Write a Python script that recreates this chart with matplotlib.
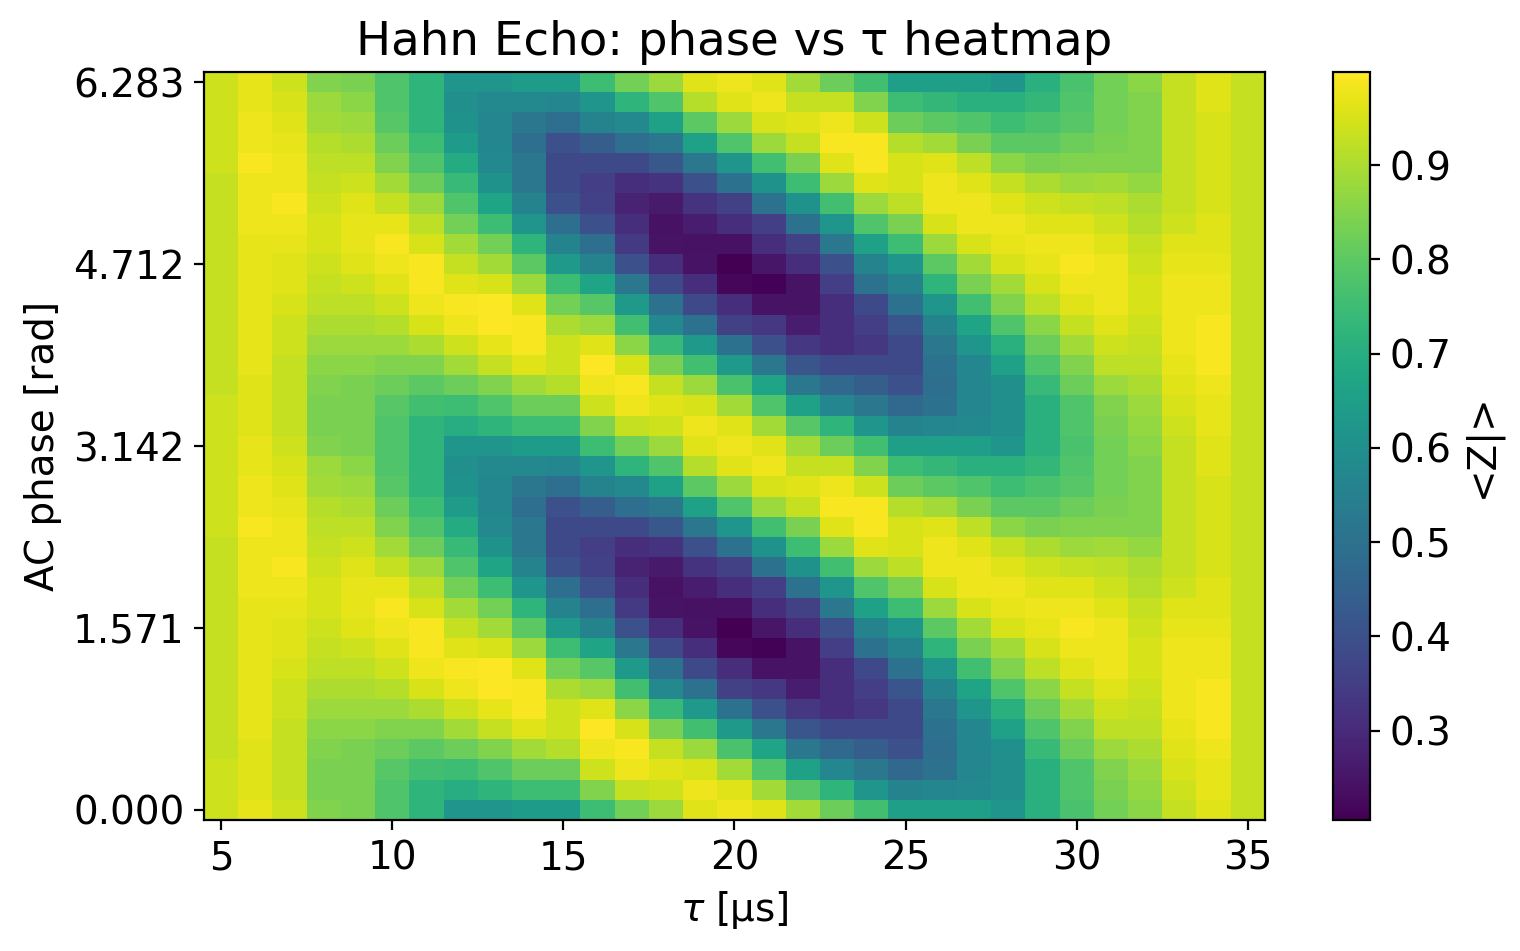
import numpy as np
import matplotlib
matplotlib.use("Agg")
import matplotlib.pyplot as plt

# tau axis (us) and AC phase axis (deg -> rad)
tau = list(range(5, 36))
phase_deg = list(range(0, 361, 10))

# <Z>, one row per phase value (0 .. 360 deg)
z_rows = [
    [0.94, 0.97, 0.94, 0.85, 0.84, 0.78, 0.72, 0.62, 0.62, 0.64, 0.64, 0.75, 0.83, 0.88, 0.96, 0.98, 0.96, 0.89, 0.82, 0.76, 0.65, 0.65, 0.65, 0.62, 0.71, 0.77, 0.83, 0.86, 0.93, 0.96, 0.93],
    [0.94, 0.96, 0.93, 0.84, 0.84, 0.78, 0.72, 0.70, 0.72, 0.75, 0.75, 0.85, 0.93, 0.94, 0.98, 0.96, 0.89, 0.79, 0.72, 0.62, 0.56, 0.57, 0.58, 0.60, 0.71, 0.78, 0.84, 0.87, 0.94, 0.97, 0.93],
    [0.94, 0.96, 0.93, 0.84, 0.84, 0.79, 0.76, 0.75, 0.78, 0.82, 0.82, 0.94, 0.98, 0.96, 0.95, 0.89, 0.78, 0.66, 0.57, 0.52, 0.47, 0.50, 0.57, 0.60, 0.71, 0.78, 0.85, 0.88, 0.95, 0.97, 0.93],
    [0.93, 0.96, 0.93, 0.85, 0.84, 0.82, 0.80, 0.82, 0.85, 0.89, 0.91, 0.98, 0.99, 0.93, 0.88, 0.77, 0.67, 0.52, 0.47, 0.44, 0.40, 0.49, 0.57, 0.60, 0.74, 0.82, 0.88, 0.90, 0.96, 0.98, 0.93],
    [0.93, 0.97, 0.93, 0.86, 0.86, 0.85, 0.85, 0.89, 0.93, 0.96, 0.94, 0.999, 0.95, 0.84, 0.76, 0.63, 0.52, 0.41, 0.38, 0.38, 0.38, 0.50, 0.57, 0.66, 0.78, 0.85, 0.92, 0.92, 0.97, 0.99, 0.93],
    [0.93, 0.97, 0.94, 0.88, 0.88, 0.88, 0.90, 0.94, 0.97, 0.99, 0.94, 0.96, 0.86, 0.74, 0.63, 0.50, 0.40, 0.33, 0.31, 0.33, 0.38, 0.52, 0.62, 0.71, 0.82, 0.89, 0.94, 0.93, 0.98, 0.99, 0.93],
    [0.93, 0.97, 0.94, 0.90, 0.90, 0.91, 0.95, 0.98, 0.999, 0.99, 0.90, 0.88, 0.76, 0.58, 0.50, 0.36, 0.33, 0.27, 0.31, 0.35, 0.41, 0.56, 0.67, 0.78, 0.86, 0.93, 0.96, 0.94, 0.98, 0.99, 0.93],
    [0.93, 0.97, 0.95, 0.92, 0.92, 0.94, 0.98, 0.99, 0.995, 0.96, 0.83, 0.79, 0.63, 0.50, 0.38, 0.31, 0.245, 0.245, 0.31, 0.38, 0.50, 0.62, 0.76, 0.85, 0.92, 0.96, 0.98, 0.95, 0.98, 0.98, 0.93],
    [0.93, 0.97, 0.96, 0.93, 0.94, 0.96, 0.99, 0.96, 0.95, 0.88, 0.75, 0.67, 0.52, 0.38, 0.31, 0.22, 0.21, 0.245, 0.35, 0.50, 0.56, 0.72, 0.84, 0.89, 0.95, 0.98, 0.98, 0.95, 0.98, 0.98, 0.93],
    [0.93, 0.97, 0.96, 0.94, 0.96, 0.98, 0.99, 0.93, 0.89, 0.80, 0.63, 0.56, 0.40, 0.31, 0.245, 0.205, 0.25, 0.31, 0.40, 0.56, 0.62, 0.80, 0.89, 0.95, 0.97, 0.99, 0.98, 0.94, 0.97, 0.97, 0.93],
    [0.93, 0.97, 0.97, 0.95, 0.97, 0.99, 0.95, 0.89, 0.83, 0.72, 0.56, 0.49, 0.34, 0.245, 0.24, 0.24, 0.31, 0.36, 0.52, 0.66, 0.75, 0.88, 0.95, 0.97, 0.98, 0.98, 0.96, 0.93, 0.96, 0.96, 0.93],
    [0.93, 0.98, 0.98, 0.95, 0.97, 0.97, 0.92, 0.83, 0.75, 0.62, 0.49, 0.40, 0.31, 0.24, 0.27, 0.31, 0.35, 0.50, 0.62, 0.78, 0.84, 0.95, 0.98, 0.98, 0.96, 0.96, 0.94, 0.91, 0.94, 0.96, 0.93],
    [0.93, 0.98, 0.99, 0.94, 0.96, 0.93, 0.88, 0.78, 0.67, 0.56, 0.40, 0.355, 0.28, 0.26, 0.32, 0.36, 0.50, 0.61, 0.76, 0.88, 0.92, 0.98, 0.98, 0.96, 0.94, 0.93, 0.92, 0.90, 0.93, 0.95, 0.93],
    [0.93, 0.98, 0.98, 0.93, 0.94, 0.89, 0.82, 0.74, 0.61, 0.52, 0.38, 0.35, 0.31, 0.32, 0.40, 0.50, 0.61, 0.75, 0.88, 0.96, 0.95, 0.98, 0.96, 0.93, 0.90, 0.88, 0.89, 0.87, 0.93, 0.95, 0.93],
    [0.94, 0.99, 0.98, 0.92, 0.92, 0.85, 0.78, 0.69, 0.58, 0.52, 0.38, 0.38, 0.38, 0.42, 0.52, 0.62, 0.76, 0.84, 0.96, 0.99, 0.95, 0.96, 0.92, 0.86, 0.84, 0.85, 0.85, 0.85, 0.93, 0.95, 0.93],
    [0.94, 0.98, 0.97, 0.91, 0.90, 0.82, 0.75, 0.64, 0.57, 0.49, 0.40, 0.44, 0.49, 0.52, 0.66, 0.78, 0.88, 0.93, 0.99, 0.99, 0.91, 0.89, 0.84, 0.80, 0.80, 0.82, 0.84, 0.85, 0.93, 0.95, 0.93],
    [0.94, 0.98, 0.96, 0.89, 0.88, 0.79, 0.72, 0.61, 0.57, 0.52, 0.49, 0.56, 0.58, 0.66, 0.80, 0.88, 0.95, 0.96, 0.98, 0.94, 0.82, 0.80, 0.78, 0.75, 0.77, 0.79, 0.83, 0.85, 0.93, 0.95, 0.93],
    [0.94, 0.97, 0.95, 0.88, 0.86, 0.78, 0.72, 0.60, 0.58, 0.58, 0.57, 0.62, 0.72, 0.78, 0.91, 0.96, 0.98, 0.93, 0.93, 0.85, 0.75, 0.73, 0.71, 0.71, 0.73, 0.78, 0.83, 0.85, 0.93, 0.96, 0.93],
    [0.94, 0.97, 0.94, 0.85, 0.84, 0.78, 0.72, 0.62, 0.62, 0.64, 0.64, 0.75, 0.83, 0.88, 0.96, 0.98, 0.96, 0.89, 0.82, 0.76, 0.65, 0.65, 0.65, 0.62, 0.71, 0.77, 0.83, 0.86, 0.93, 0.96, 0.93],
    [0.94, 0.96, 0.93, 0.84, 0.84, 0.78, 0.72, 0.70, 0.72, 0.75, 0.75, 0.85, 0.93, 0.94, 0.98, 0.96, 0.89, 0.79, 0.72, 0.62, 0.56, 0.57, 0.58, 0.60, 0.71, 0.78, 0.84, 0.87, 0.94, 0.97, 0.93],
    [0.94, 0.96, 0.93, 0.84, 0.84, 0.79, 0.76, 0.75, 0.78, 0.82, 0.82, 0.94, 0.98, 0.96, 0.95, 0.89, 0.78, 0.66, 0.57, 0.52, 0.47, 0.50, 0.57, 0.60, 0.71, 0.78, 0.85, 0.88, 0.95, 0.97, 0.93],
    [0.93, 0.96, 0.93, 0.85, 0.84, 0.82, 0.80, 0.82, 0.85, 0.89, 0.91, 0.98, 0.99, 0.93, 0.88, 0.77, 0.67, 0.52, 0.47, 0.44, 0.40, 0.49, 0.57, 0.60, 0.74, 0.82, 0.88, 0.90, 0.96, 0.98, 0.93],
    [0.93, 0.97, 0.93, 0.86, 0.86, 0.85, 0.85, 0.89, 0.93, 0.96, 0.94, 0.999, 0.95, 0.84, 0.76, 0.63, 0.52, 0.41, 0.38, 0.38, 0.38, 0.50, 0.57, 0.66, 0.78, 0.85, 0.92, 0.92, 0.97, 0.99, 0.93],
    [0.93, 0.97, 0.94, 0.88, 0.88, 0.88, 0.90, 0.94, 0.97, 0.99, 0.94, 0.96, 0.86, 0.74, 0.63, 0.50, 0.40, 0.33, 0.31, 0.33, 0.38, 0.52, 0.62, 0.71, 0.82, 0.89, 0.94, 0.93, 0.98, 0.99, 0.93],
    [0.93, 0.97, 0.94, 0.90, 0.90, 0.91, 0.95, 0.98, 0.999, 0.99, 0.90, 0.88, 0.76, 0.58, 0.50, 0.36, 0.33, 0.27, 0.31, 0.35, 0.41, 0.56, 0.67, 0.78, 0.86, 0.93, 0.96, 0.94, 0.98, 0.99, 0.93],
    [0.93, 0.97, 0.95, 0.92, 0.92, 0.94, 0.98, 0.99, 0.995, 0.96, 0.83, 0.79, 0.63, 0.50, 0.38, 0.31, 0.245, 0.245, 0.31, 0.38, 0.50, 0.62, 0.76, 0.85, 0.92, 0.96, 0.98, 0.95, 0.98, 0.98, 0.93],
    [0.93, 0.97, 0.96, 0.93, 0.94, 0.96, 0.99, 0.96, 0.95, 0.88, 0.75, 0.67, 0.52, 0.38, 0.31, 0.22, 0.21, 0.245, 0.35, 0.50, 0.56, 0.72, 0.84, 0.89, 0.95, 0.98, 0.98, 0.95, 0.98, 0.98, 0.93],
    [0.93, 0.97, 0.96, 0.94, 0.96, 0.98, 0.99, 0.93, 0.89, 0.80, 0.63, 0.56, 0.40, 0.31, 0.245, 0.205, 0.25, 0.31, 0.40, 0.56, 0.62, 0.80, 0.89, 0.95, 0.97, 0.99, 0.98, 0.94, 0.97, 0.97, 0.93],
    [0.93, 0.97, 0.97, 0.95, 0.97, 0.99, 0.95, 0.89, 0.83, 0.72, 0.56, 0.49, 0.34, 0.245, 0.24, 0.24, 0.31, 0.36, 0.52, 0.66, 0.75, 0.88, 0.95, 0.97, 0.98, 0.98, 0.96, 0.93, 0.96, 0.96, 0.93],
    [0.93, 0.98, 0.98, 0.95, 0.97, 0.97, 0.92, 0.83, 0.75, 0.62, 0.49, 0.40, 0.31, 0.24, 0.27, 0.31, 0.35, 0.50, 0.62, 0.78, 0.84, 0.95, 0.98, 0.98, 0.96, 0.96, 0.94, 0.91, 0.94, 0.96, 0.93],
    [0.93, 0.98, 0.99, 0.94, 0.96, 0.93, 0.88, 0.78, 0.67, 0.56, 0.40, 0.355, 0.28, 0.26, 0.32, 0.36, 0.50, 0.61, 0.76, 0.88, 0.92, 0.98, 0.98, 0.96, 0.94, 0.93, 0.92, 0.90, 0.93, 0.95, 0.93],
    [0.93, 0.98, 0.98, 0.93, 0.94, 0.89, 0.82, 0.74, 0.61, 0.52, 0.38, 0.35, 0.31, 0.32, 0.40, 0.50, 0.61, 0.75, 0.88, 0.96, 0.95, 0.98, 0.96, 0.93, 0.90, 0.88, 0.89, 0.87, 0.93, 0.95, 0.93],
    [0.94, 0.99, 0.98, 0.92, 0.92, 0.85, 0.78, 0.69, 0.58, 0.52, 0.38, 0.38, 0.38, 0.42, 0.52, 0.62, 0.76, 0.84, 0.96, 0.99, 0.95, 0.96, 0.92, 0.86, 0.84, 0.85, 0.85, 0.85, 0.93, 0.95, 0.93],
    [0.94, 0.98, 0.97, 0.91, 0.90, 0.82, 0.75, 0.64, 0.57, 0.49, 0.40, 0.44, 0.49, 0.52, 0.66, 0.78, 0.88, 0.93, 0.99, 0.99, 0.91, 0.89, 0.84, 0.80, 0.80, 0.82, 0.84, 0.85, 0.93, 0.95, 0.93],
    [0.94, 0.98, 0.96, 0.89, 0.88, 0.79, 0.72, 0.61, 0.57, 0.52, 0.49, 0.56, 0.58, 0.66, 0.80, 0.88, 0.95, 0.96, 0.98, 0.94, 0.82, 0.80, 0.78, 0.75, 0.77, 0.79, 0.83, 0.85, 0.93, 0.95, 0.93],
    [0.94, 0.97, 0.95, 0.88, 0.86, 0.78, 0.72, 0.60, 0.58, 0.58, 0.57, 0.62, 0.72, 0.78, 0.91, 0.96, 0.98, 0.93, 0.93, 0.85, 0.75, 0.73, 0.71, 0.71, 0.73, 0.78, 0.83, 0.85, 0.93, 0.96, 0.93],
    [0.94, 0.97, 0.94, 0.85, 0.84, 0.78, 0.72, 0.62, 0.62, 0.64, 0.64, 0.75, 0.83, 0.88, 0.96, 0.98, 0.96, 0.89, 0.82, 0.76, 0.65, 0.65, 0.65, 0.62, 0.71, 0.77, 0.83, 0.86, 0.93, 0.96, 0.93],
]

phase_ticks = [0, np.pi / 2, np.pi, 3 * np.pi / 2, 2 * np.pi]

plt.rcParams["font.size"] = 14

phase = np.deg2rad(phase_deg)
Z = np.array(z_rows)

fig = plt.figure(figsize=(7.6, 4.755), dpi=200)
ax = fig.add_axes([0.1342, 0.1377, 0.698, 0.7866])
cax = fig.add_axes([0.877, 0.1377, 0.0243, 0.7866])

mesh = ax.pcolormesh(tau, phase, Z, cmap="viridis", shading="nearest")
ax.set_yticks(phase_ticks)
ax.set_yticklabels([f"{t:.3f}" for t in phase_ticks])
ax.set_xlabel(r"$\tau$ [µs]")
ax.set_ylabel("AC phase [rad]")
ax.set_title("Hahn Echo: phase vs τ heatmap")

cb = fig.colorbar(mesh, cax=cax)
cb.set_label("<Z|>")

fig.savefig("out.png", dpi=200)
